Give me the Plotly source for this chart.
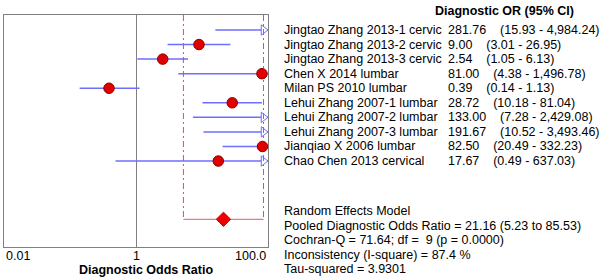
import math
import plotly.graph_objects as go

# ---- data ----
studies = [
    "Jingtao Zhang 2013-1 cervic",
    "Jingtao Zhang 2013-2 cervic",
    "Jingtao Zhang 2013-3 cervic",
    "Chen X 2014 lumbar",
    "Milan PS 2010 lumbar",
    "Lehui Zhang 2007-1 lumbar",
    "Lehui Zhang 2007-2 lumbar",
    "Lehui Zhang 2007-3 lumbar",
    "Jianqiao X 2006 lumbar",
    "Chao Chen 2013 cervical",
]
or_vals = [281.76, 9.00, 2.54, 81.00, 0.39, 28.72, 133.00, 191.67, 82.50, 17.67]
ci_lo = [15.93, 3.01, 1.05, 4.38, 0.14, 10.18, 7.28, 10.52, 20.49, 0.49]
ci_hi = [4984.24, 26.95, 6.13, 1496.78, 1.13, 81.04, 2429.08, 3493.46, 332.23, 637.03]

pooled_or = 21.16
pooled_lo = 5.23
pooled_hi = 85.53

summary_lines = [
    "Random Effects Model",
    "Pooled Diagnostic Odds Ratio = 21.16 (5.23 to 85.53)",
    "Cochran-Q = 71.64; df =\u00a0\u00a09 (p = 0.0000)",
    "Inconsistency (I-square) = 87.4 %",
    "Tau-squared = 3.9301",
]
header = "Diagnostic OR (95% CI)"
x_title = "Diagnostic Odds Ratio"
tick_vals = [0.01, 1, 100]
tick_text = ["0.01", "1", "100.0"]
x_max = 100

# ---- layout helpers ----
FONT = "Arial, Liberation Sans, sans-serif"
FS = 12.5
rows = list(range(len(studies)))
pooled_row = 13
y_top, y_bot = -1.03, 14.904

blue = "#6e6eff"
red_dash = "#f04848"
red_line = "#f07878"

fig = go.Figure()

# CI lines
lx, ly = [], []
for i, (lo, hi) in enumerate(zip(ci_lo, ci_hi)):
    lx += [lo, hi, None]
    ly += [i, i, None]
fig.add_trace(go.Scatter(x=lx, y=ly, mode="lines",
                         line=dict(color=blue, width=1.5), hoverinfo="skip"))

# arrows for truncated upper limits
ax_, ay_ = [], []
for i, hi in enumerate(ci_hi):
    if hi > x_max:
        ax_.append(x_max)
        ay_.append(i)
fig.add_trace(go.Scatter(x=ax_, y=ay_, mode="markers",
                         marker=dict(symbol="triangle-up", angle=90, standoff=4.5,
                                     size=9, color="white",
                                     line=dict(color=blue, width=1))))

# pooled bracket
fig.add_trace(go.Scatter(x=[pooled_lo, pooled_lo, None, pooled_hi, pooled_hi],
                         y=[y_top, pooled_row, None, y_top, pooled_row],
                         mode="lines", line=dict(color=red_dash, width=1, dash="6px,3px,2px,3px")))
fig.add_trace(go.Scatter(x=[pooled_lo, pooled_hi], y=[pooled_row, pooled_row],
                         mode="lines", line=dict(color=red_line, width=1.3)))
fig.add_trace(go.Scatter(x=[pooled_or], y=[pooled_row], mode="markers",
                         marker=dict(symbol="diamond", size=11, color="#ee0000",
                                     line=dict(color="#c80000", width=1))))

# point estimates
fig.add_trace(go.Scatter(x=or_vals, y=rows, mode="markers",
                         marker=dict(symbol="circle", size=10.5, color="#e00000",
                                     line=dict(color="#8a0000", width=1))))

# ---- annotations ----
L, R, T, B = 4, 268, 15, 247
ROW0, ROWH = 30, 14.56
def px2paper_x(px):
    return (px - L) / (R - L)
def px2paper_y(py):
    return (B - py) / (B - T)
def row2paper(r):
    return px2paper_y(ROW0 + ROWH * r)

ann = []
tf = dict(family=FONT, size=FS, color="black")
ann.append(dict(text="<b>" + header + "</b>", xref="paper", yref="paper",
                x=px2paper_x(433), y=px2paper_y(11), xanchor="left", yanchor="middle",
                showarrow=False, font=tf))
for i, s in enumerate(studies):
    ann.append(dict(text=s, xref="paper", yref="paper", x=px2paper_x(282), y=row2paper(i),
                    xanchor="left", yanchor="middle", showarrow=False, font=tf))
    ci = f"{or_vals[i]:,.2f}\u00a0\u00a0\u00a0\u00a0({ci_lo[i]:,.2f} - {ci_hi[i]:,.2f})"
    ann.append(dict(text=ci, xref="paper", yref="paper", x=px2paper_x(446), y=row2paper(i),
                    xanchor="left", yanchor="middle", showarrow=False, font=tf))
for k, s in enumerate(summary_lines):
    ann.append(dict(text=s, xref="paper", yref="paper", x=px2paper_x(282),
                    y=row2paper(12.43 + k),
                    xanchor="left", yanchor="middle", showarrow=False, font=tf))
anchors = ["left", "center", "right"]
for v, t, a in zip(tick_vals, tick_text, anchors):
    ann.append(dict(text=t, xref="x", yref="paper", x=math.log10(v), y=px2paper_y(256),
                    xanchor=a, yanchor="middle", showarrow=False, font=tf))
ann.append(dict(text="<b>" + x_title + "</b>", xref="paper", yref="paper",
                x=px2paper_x(146), y=px2paper_y(269.5), xanchor="center",
                yanchor="middle", showarrow=False, font=tf))

fig.update_layout(
    width=600, height=278,
    margin=dict(l=L, r=600 - R, t=T, b=278 - B),
    paper_bgcolor="white", plot_bgcolor="white",
    showlegend=False,
    annotations=ann,
    xaxis=dict(type="log", range=[-2, 2], tickvals=[1], showticklabels=False,
               ticks="", showgrid=True, gridcolor="#808080", gridwidth=1,
               showline=True, mirror=True, linecolor="#808080", linewidth=1,
               zeroline=False),
    yaxis=dict(range=[y_bot, y_top], showticklabels=False, ticks="",
               showgrid=False, zeroline=False, showline=True, mirror=True,
               linecolor="#808080", linewidth=1),
)

fig.write_html("out.html", config={"displayModeBar": False},
               post_script="document.body.style.margin='0';document.body.style.overflow='hidden';")
